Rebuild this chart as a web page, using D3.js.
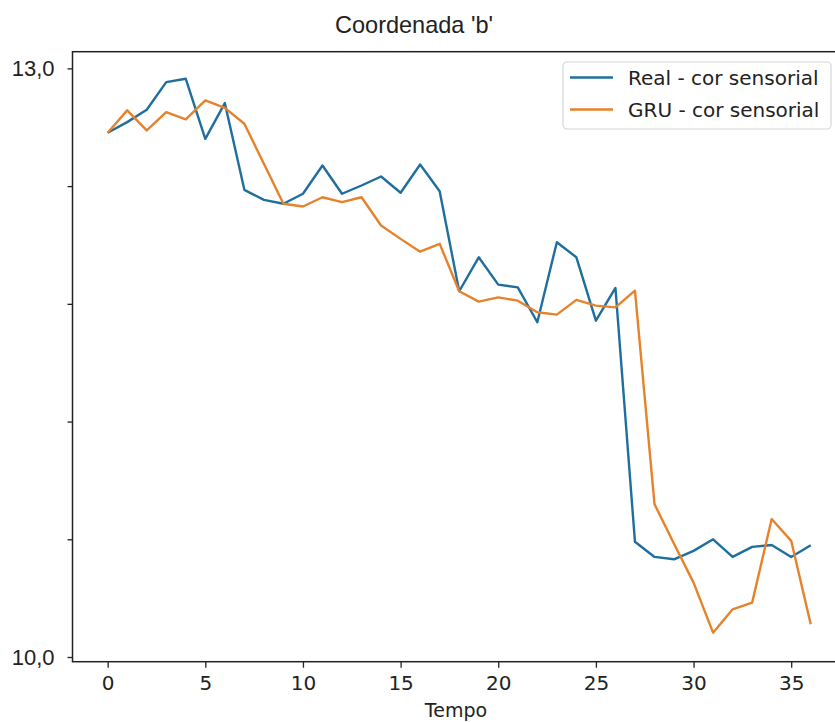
<!DOCTYPE html>
<html>
<head>
<meta charset="utf-8">
<script src="https://cdn.jsdelivr.net/npm/d3@7"></script>
<style>
  body { margin: 0; background: #fff; }
  svg { display: block; }
</style>
</head>
<body>
<svg width="835" height="722"></svg>
<script>
// Time steps
let tempo = [0, 1, 2, 3, 4, 5, 6, 7, 8, 9, 10, 11, 12, 13, 14, 15, 16, 17, 18,
  19, 20, 21, 22, 23, 24, 25, 26, 27, 28, 29, 30, 31, 32, 33, 34, 35, 36];

// Real - cor sensorial
let realValues = [12.672, 12.726, 12.789, 12.930, 12.947, 12.641, 12.823, 12.381,
  12.330, 12.310, 12.361, 12.505, 12.361, 12.403, 12.449, 12.366, 12.510, 12.374,
  11.864, 12.037, 11.898, 11.884, 11.706, 12.114, 12.037, 11.714, 11.881, 10.587,
  10.510, 10.498, 10.541, 10.600, 10.510, 10.561, 10.571, 10.510, 10.570];

// GRU - cor sensorial
let gruValues = [12.672, 12.786, 12.684, 12.777, 12.740, 12.837, 12.799, 12.718,
  12.514, 12.310, 12.296, 12.343, 12.318, 12.343, 12.199, 12.131, 12.066, 12.106,
  11.864, 11.811, 11.833, 11.816, 11.757, 11.745, 11.820, 11.791, 11.782, 11.867,
  10.779, 10.577, 10.379, 10.124, 10.243, 10.277, 10.703, 10.592, 10.167];

let seriesNames = ["Real - cor sensorial", "GRU - cor sensorial"];
let xTicks = [0, 5, 10, 15, 20, 25, 30, 35];
let yTicks = [13.0, 12.4, 11.8, 11.2, 10.6, 10.0];
let yLabelled = [13.0, 10.0];

let svg = d3.select("svg");
let margin = { left: 72.5, top: 51.7, bottom: 60.3 };
let height = +svg.attr("height") - margin.top - margin.bottom;

let colors = ["#1f6f9e", "#e6822b"];

let x = d3.scaleLinear()
  .domain([-1.8, 37.8])
  .range([margin.left, margin.left + 39.6 * 19.53]);

let y = d3.scaleLinear()
  .domain([9.976, 13.085])
  .range([margin.top + height, margin.top]);

// Title
svg.append("text")
  .attr("x", 414)
  .attr("y", 33)
  .attr("text-anchor", "middle")
  .attr("font-family", "'Liberation Sans', Arial, sans-serif")
  .attr("font-size", "24px")
  .attr("fill", "#222")
  .attr("textLength", 158)
  .attr("lengthAdjust", "spacingAndGlyphs")
  .text("Coordenada 'b'");

// Lines
let line = d3.line()
  .x(function(d) { return x(d[0]); })
  .y(function(d) { return y(d[1]); });

[realValues, gruValues].forEach(function(vals, i) {
  svg.append("path")
    .datum(tempo.map(function(t, j) { return [t, vals[j]]; }))
    .attr("fill", "none")
    .attr("stroke", colors[i])
    .attr("stroke-width", 2.4)
    .attr("stroke-linejoin", "round")
    .attr("d", line);
});

// X axis
let xAxis = svg.append("g")
  .attr("transform", "translate(0," + (margin.top + height) + ")")
  .call(d3.axisBottom(x).tickValues(xTicks).tickSize(6).tickPadding(8)
    .tickFormat(d3.format("d")));
xAxis.select(".domain").remove();
xAxis.selectAll("line").attr("stroke", "#222").attr("stroke-width", 1.3);
xAxis.selectAll("text")
  .attr("font-family", "'DejaVu Sans', sans-serif")
  .attr("font-size", "20px")
  .attr("fill", "#222");

// Y axis
let yAxis = svg.append("g")
  .attr("transform", "translate(" + margin.left + ",0)")
  .call(d3.axisLeft(y).tickValues(yTicks).tickSize(5).tickPadding(13)
    .tickFormat(function(d) {
      return yLabelled.indexOf(d) >= 0 ? d3.format(".1f")(d).replace(".", ",") : "";
    }));
yAxis.select(".domain").remove();
yAxis.selectAll("line").attr("stroke", "#222").attr("stroke-width", 1.3);
yAxis.selectAll("text")
  .attr("font-family", "'Liberation Sans', Arial, sans-serif")
  .attr("font-size", "22px")
  .attr("fill", "#222");

// Frame
svg.append("rect")
  .attr("x", x.range()[0])
  .attr("y", y.range()[1])
  .attr("width", x.range()[1] - x.range()[0])
  .attr("height", y.range()[0] - y.range()[1])
  .attr("fill", "none")
  .attr("stroke", "#222")
  .attr("stroke-width", 1.5);

// X label
svg.append("text")
  .attr("x", 456)
  .attr("y", 717)
  .attr("text-anchor", "middle")
  .attr("font-family", "'DejaVu Sans', sans-serif")
  .attr("font-size", "19px")
  .attr("fill", "#222")
  .text("Tempo");

// Legend
let legend = svg.append("g").attr("transform", "translate(563,62)");

legend.append("rect")
  .attr("width", 268)
  .attr("height", 67)
  .attr("rx", 4)
  .attr("fill", "#fff")
  .attr("fill-opacity", 0.85)
  .attr("stroke", "#d6d6d6")
  .attr("stroke-width", 1.2);

seriesNames.forEach(function(name, i) {
  let row = legend.append("g").attr("transform", "translate(0," + (15.5 + i * 32) + ")");
  row.append("line")
    .attr("x1", 7)
    .attr("x2", 50)
    .attr("stroke", colors[i])
    .attr("stroke-width", 2.4);
  row.append("text")
    .attr("x", 65)
    .attr("y", 7)
    .attr("font-family", "'DejaVu Sans', sans-serif")
    .attr("font-size", "20px")
    .attr("fill", "#222")
    .text(name);
});
</script>
</body>
</html>
